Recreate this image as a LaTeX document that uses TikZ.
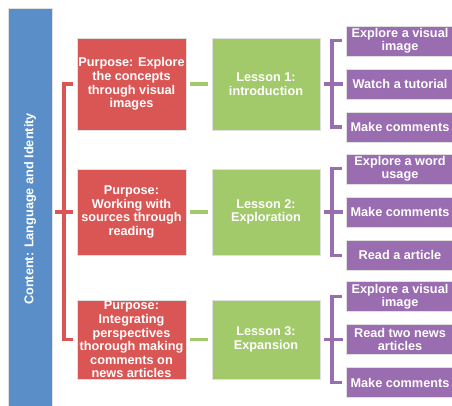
\documentclass[tikz,border=0pt]{standalone}
\usepackage{fontspec}
\setmainfont{Liberation Sans}
\usepackage{graphicx}
\usetikzlibrary{positioning}

\definecolor{contentblue}{HTML}{5A8EC8}
\definecolor{purposered}{HTML}{D95654}
\definecolor{lessongreen}{HTML}{A2C96A}
\definecolor{taskpurple}{HTML}{9A6CB0}

\begin{document}
\begin{tikzpicture}[x=1pt, y=-1pt,
    box/.style={draw=white!88!black, line width=0.6pt, text=white, align=center, inner sep=0pt,
        font=\bfseries\fontsize{12.7}{13.6}\selectfont},
    contentbox/.style={box, fill=contentblue, minimum width=44pt, minimum height=402pt},
    purposebox/.style={box, fill=purposered, minimum width=109pt},
    lessonbox/.style={box, fill=lessongreen, minimum width=108pt},
    taskbox/.style={box, fill=taskpurple, minimum width=108pt, minimum height=30pt,
        font=\bfseries\fontsize{12.7}{13}\selectfont},
    redline/.style={draw=purposered, line width=3.2pt},
    greenline/.style={draw=lessongreen, line width=3.2pt, shorten <=4pt, shorten >=4pt},
    purpleline/.style={draw=taskpurple, line width=3.2pt}]
    \useasboundingbox (0,0) rectangle (452,406);

    % Content
    \node[contentbox] (content) at (30, 209) {\rotatebox{90}{Content: Language and Identity}};

    % Purposes
    \node[purposebox, minimum height=92pt] (purpose1) at (131.5, 84) {Purpose: Explore\\the  concepts\\through  visual\\images};
    \node[purposebox, minimum height=86pt] (purpose2) at (131.5, 212) {Purpose:\\Working with\\sources through\\reading};
    \node[purposebox, minimum height=79pt] (purpose3) at (131.5, 339.5) {Purpose:\\Integrating\\perspectives\\thorough making\\comments on\\news articles};

    % Lessons
    \node[lessonbox, minimum height=92pt] (lesson1) at (266, 84) {Lesson 1:\\introduction};
    \node[lessonbox, minimum height=86pt] (lesson2) at (266, 212) {Lesson 2:\\Exploration};
    \node[lessonbox, minimum height=79pt] (lesson3) at (266, 339.5) {Lesson 3:\\Expansion};

    % Tasks of lesson 1
    \node[taskbox] (task1b) at (400, 84) {Watch a tutorial};
    \node[taskbox, above=12.5pt of task1b] (task1a) {Explore a visual\\image};
    \node[taskbox, below=12.5pt of task1b] (task1c) {Make comments};

    % Tasks of lesson 2
    \node[taskbox] (task2b) at (400, 212) {Make comments};
    \node[taskbox, above=12.5pt of task2b] (task2a) {Explore a word\\usage};
    \node[taskbox, below=12.5pt of task2b] (task2c) {Read a article};

    % Tasks of lesson 3
    \node[taskbox] (task3b) at (400, 339.5) {Read two news\\articles};
    \node[taskbox, above=12.5pt of task3b] (task3a) {Explore a visual\\image};
    \node[taskbox, below=12.5pt of task3b] (task3c) {Make comments};

    % Brace from content to purposes
    \coordinate (rbrace) at (64, 212);
    \draw[redline, shorten <=4pt, shorten >=4pt] (purpose1.west) -| (rbrace) |- (purpose3.west);
    \draw[redline, shorten <=3pt, shorten >=4pt] (content.east |- purpose2.west) -- (purpose2.west);

    % Purposes to lessons
    \draw[greenline] (purpose1.east) -- (lesson1.west);
    \draw[greenline] (purpose2.east) -- (lesson2.west);
    \draw[greenline] (purpose3.east) -- (lesson3.west);

    % Braces from lessons to tasks
    \coordinate (pbrace1) at (332, 84);
    \coordinate (pbrace2) at (332, 212);
    \coordinate (pbrace3) at (332, 339.5);
    \draw[purpleline, shorten <=4pt, shorten >=4pt] (task1a.west) -| (pbrace1) |- (task1c.west);
    \draw[purpleline, shorten <=4pt, shorten >=4pt] (task2a.west) -| (pbrace2) |- (task2c.west);
    \draw[purpleline, shorten <=4pt, shorten >=4pt] (task3a.west) -| (pbrace3) |- (task3c.west);
    \draw[purpleline, shorten <=4pt, shorten >=3pt] (lesson1.east) -- (task1b.west);
    \draw[purpleline, shorten <=4pt, shorten >=3pt] (lesson2.east) -- (task2b.west);
    \draw[purpleline, shorten <=4pt, shorten >=3pt] (lesson3.east) -- (task3b.west);
\end{tikzpicture}
\end{document}
